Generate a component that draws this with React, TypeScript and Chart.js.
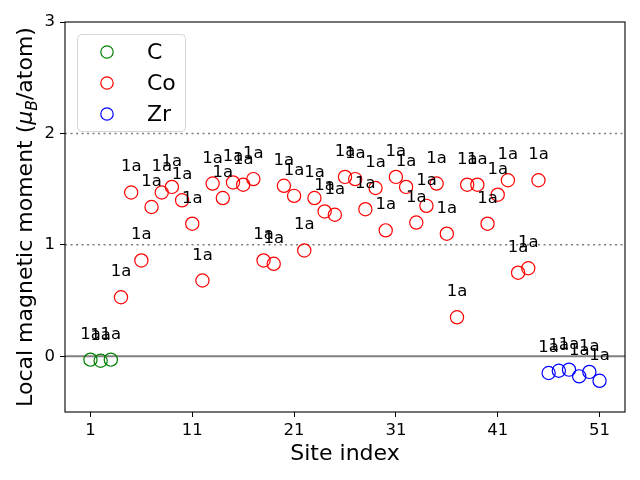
import React, { useEffect, useRef } from "react";
import { Chart, registerables } from "chart.js";

Chart.register(...registerables);

// ---- data ----
const cSites = [1, 2, 3];
const cMoments = [-0.03, -0.04, -0.03];
const cLabels = ["1a", "1a", "1a"];

const coSites = [
  4, 5, 6, 7, 8, 9, 10, 11, 12, 13, 14, 15, 16, 17, 18, 19, 20, 21, 22, 23, 24,
  25, 26, 27, 28, 29, 30, 31, 32, 33, 34, 35, 36, 37, 38, 39, 40, 41, 42, 43, 44, 45,
];
const coMoments = [
  0.53, 1.47, 0.86, 1.34, 1.47, 1.52, 1.4, 1.19, 0.68, 1.55, 1.42, 1.56, 1.54, 1.59,
  0.86, 0.83, 1.53, 1.44, 0.95, 1.42, 1.3, 1.27, 1.61, 1.59, 1.32, 1.51, 1.13, 1.61,
  1.52, 1.2, 1.35, 1.55, 1.1, 0.35, 1.54, 1.54, 1.19, 1.45, 1.58, 0.75, 0.79, 1.58,
];
const coLabels = [
  "1a", "1a", "1a", "1a", "1a", "1a", "1a", "1a", "1a", "1a", "1a", "1a", "1a", "1a",
  "1a", "1a", "1a", "1a", "1a", "1a", "1a", "1a", "1a", "1a", "1a", "1a", "1a", "1a",
  "1a", "1a", "1a", "1a", "1a", "1a", "1a", "1a", "1a", "1a", "1a", "1a", "1a", "1a",
];

const zrSites = [46, 47, 48, 49, 50, 51];
const zrMoments = [-0.15, -0.13, -0.12, -0.18, -0.14, -0.22];
const zrLabels = ["1a", "1a", "1a", "1a", "1a", "1a"];

const seriesNames = ["C", "Co", "Zr"];
const seriesColors = ["green", "red", "blue"];

const xTicks = [1, 11, 21, 31, 41, 51];
const yTicks = [0, 1, 2, 3];
const dottedLevels = [1, 2];
const solidLevels = [0];

const xTitle = "Site index";
const yTitleParts = ["Local magnetic moment (", "μ", "B", "/atom)"];

const FONT = "'DejaVu Sans', sans-serif";

const siteLabels = [cLabels, coLabels, zrLabels];

const overlayPlugin = {
  id: "overlay",
  beforeDatasetsDraw(chart: any) {
    const { ctx, chartArea: a, scales } = chart;
    const y = scales.y;
    ctx.save();
    ctx.strokeStyle = "#808080";
    ctx.lineWidth = 1.5;
    ctx.setLineDash([2.1, 3.4]);
    for (const v of dottedLevels) {
      const py = y.getPixelForValue(v);
      ctx.beginPath();
      ctx.moveTo(a.left, py);
      ctx.lineTo(a.right, py);
      ctx.stroke();
    }
    ctx.setLineDash([]);
    ctx.lineWidth = 2;
    for (const v of solidLevels) {
      const py = y.getPixelForValue(v);
      ctx.beginPath();
      ctx.moveTo(a.left, py);
      ctx.lineTo(a.right, py);
      ctx.stroke();
    }
    ctx.restore();
  },
  afterDatasetsDraw(chart: any) {
    const { ctx } = chart;
    ctx.save();
    ctx.fillStyle = "#000";
    ctx.font = `16.5px ${FONT}`;
    ctx.textAlign = "center";
    ctx.textBaseline = "alphabetic";
    chart.data.datasets.forEach((_: any, di: number) => {
      const meta = chart.getDatasetMeta(di);
      meta.data.forEach((el: any, i: number) => {
        ctx.fillText(siteLabels[di][i], el.x, el.y - 21);
      });
    });
    ctx.restore();
  },
  afterDraw(chart: any) {
    const { ctx, chartArea: a } = chart;
    ctx.save();
    // frame
    ctx.strokeStyle = "#000";
    ctx.lineWidth = 1.1;
    ctx.strokeRect(a.left, a.top, a.right - a.left, a.bottom - a.top);

    // legend
    const bx = a.left + 12;
    const by = a.top + 12;
    const bw = 108;
    const bh = 97;
    ctx.beginPath();
    ctx.roundRect(bx + 0.5, by + 0.5, bw, bh, 4);
    ctx.fillStyle = "rgba(255,255,255,0.8)";
    ctx.fill();
    ctx.strokeStyle = "#d6d6d6";
    ctx.lineWidth = 1;
    ctx.stroke();
    ctx.font = `22px ${FONT}`;
    ctx.textAlign = "left";
    ctx.textBaseline = "middle";
    seriesNames.forEach((name, i) => {
      const ry = by + 18 + i * 31;
      ctx.beginPath();
      ctx.arc(bx + 30, ry, 6.2, 0, Math.PI * 2);
      ctx.strokeStyle = seriesColors[i];
      ctx.lineWidth = 1.2;
      ctx.stroke();
      ctx.fillStyle = "#000";
      ctx.fillText(name, bx + 70, ry + 1);
    });

    // x title
    ctx.font = `22px ${FONT}`;
    ctx.textAlign = "center";
    ctx.textBaseline = "alphabetic";
    ctx.fillStyle = "#000";
    ctx.fillText(xTitle, (a.left + a.right) / 2, 460);

    // y title (with subscript)
    const fonts = [
      `22px ${FONT}`,
      `italic 22px ${FONT}`,
      `italic 15.5px ${FONT}`,
      `22px ${FONT}`,
    ];
    const dys = [0, 0, 4.5, 0];
    const widths = yTitleParts.map((t, i) => {
      ctx.font = fonts[i];
      return ctx.measureText(t).width;
    });
    const total = widths.reduce((s, w) => s + w, 0);
    ctx.translate(32, (a.top + a.bottom) / 2);
    ctx.rotate(-Math.PI / 2);
    ctx.textAlign = "left";
    let cx = -total / 2;
    yTitleParts.forEach((t, i) => {
      ctx.font = fonts[i];
      ctx.fillText(t, cx, dys[i]);
      cx += widths[i];
    });
    ctx.restore();
  },
};

function makeData(sites: number[], vals: number[]) {
  return sites.map((x, i) => ({ x, y: vals[i] }));
}

export default function App() {
  const ref = useRef<HTMLCanvasElement | null>(null);

  useEffect(() => {
    if (!ref.current) return;
    const groups = [
      makeData(cSites, cMoments),
      makeData(coSites, coMoments),
      makeData(zrSites, zrMoments),
    ];
    const chart = new Chart(ref.current, {
      type: "scatter",
      data: {
        datasets: groups.map((d, i) => ({
          label: seriesNames[i],
          data: d,
          borderColor: seriesColors[i],
          backgroundColor: "rgba(0,0,0,0)",
          borderWidth: 1.2,
          pointRadius: 6.6,
          pointHoverRadius: 6.6,
          pointStyle: "circle",
        })),
      },
      options: {
        animation: false,
        responsive: false,
        devicePixelRatio: 1,
        events: [],
        layout: { padding: { left: 0, right: 15, top: 22, bottom: 0 } },
        plugins: {
          legend: { display: false },
          tooltip: { enabled: false },
          title: { display: false },
        },
        scales: {
          x: {
            type: "linear",
            min: -1.5,
            max: 53.5,
            afterBuildTicks: (s: any) => {
              s.ticks = xTicks.map((v) => ({ value: v }));
            },
            afterFit: (s: any) => {
              s.height = 68;
            },
            border: { display: false },
            grid: {
              drawOnChartArea: false,
              drawTicks: true,
              tickLength: 5,
              color: "#000",
              lineWidth: 1,
            },
            ticks: {
              padding: 4,
              color: "#000",
              font: { family: FONT, size: 16.5 },
              maxRotation: 0,
              autoSkip: false,
              callback: (v: any) => String(v),
            },
          },
          y: {
            type: "linear",
            min: -0.5,
            max: 3,
            afterBuildTicks: (s: any) => {
              s.ticks = yTicks.map((v) => ({ value: v }));
            },
            afterFit: (s: any) => {
              s.width = 65;
            },
            border: { display: false },
            grid: {
              drawOnChartArea: false,
              drawTicks: true,
              tickLength: 5,
              color: "#000",
              lineWidth: 1,
            },
            ticks: {
              padding: 5,
              color: "#000",
              font: { family: FONT, size: 16.5 },
              autoSkip: false,
              callback: (v: any) => String(v),
            },
          },
        },
      },
      plugins: [overlayPlugin],
    } as any);
    return () => chart.destroy();
  }, []);

  return (
    <div
      style={{
        position: "absolute",
        left: 0,
        top: 0,
        width: 640,
        height: 480,
        background: "#fff",
      }}
    >
      <canvas ref={ref} width={640} height={480} />
    </div>
  );
}
